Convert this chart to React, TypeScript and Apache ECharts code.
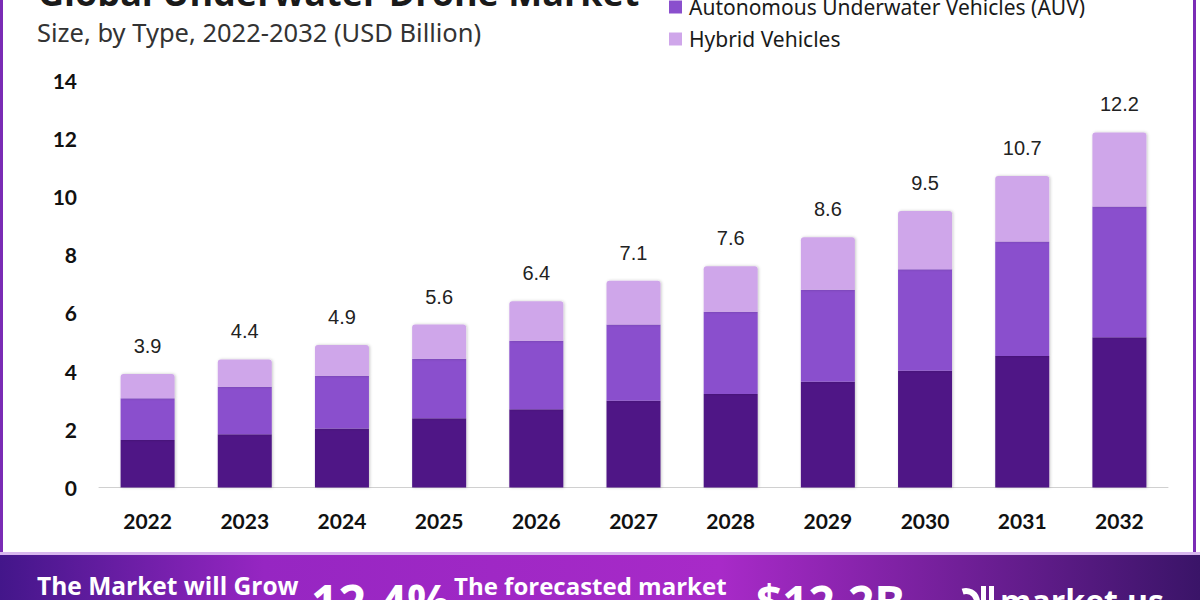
import React, { useEffect, useRef } from "react";
import * as echarts from "echarts";

const years = ["2022", "2023", "2024", "2025", "2026", "2027", "2028", "2029", "2030", "2031", "2032"];
const seriesNames = ["Remotely Operated Vehicles (ROV)", "Autonomous Underwater Vehicles (AUV)", "Hybrid Vehicles"];
const rovValues = [1.63, 1.83, 2.03, 2.38, 2.69, 2.98, 3.21, 3.63, 4.01, 4.52, 5.16];
const auvValues = [1.44, 1.63, 1.81, 2.04, 2.35, 2.62, 2.83, 3.16, 3.49, 3.93, 4.49];
const hybridValues = [0.83, 0.94, 1.06, 1.18, 1.36, 1.5, 1.56, 1.81, 2.0, 2.25, 2.55];
const totals = ["3.9", "4.4", "4.9", "5.6", "6.4", "7.1", "7.6", "8.6", "9.5", "10.7", "12.2"];
const yMin = 0;
const yMax = 14;
const yStep = 2;

const colors = ["#4f1786", "#8a4fcd", "#cfa6ea"];

export default function App() {
  const ref = useRef<HTMLDivElement>(null);
  useEffect(() => {
    if (!ref.current) return;
    const chart = echarts.init(ref.current, undefined, { renderer: "svg" });
    const shadow = { shadowBlur: 3, shadowOffsetX: 1, shadowColor: "rgba(0,0,0,0.22)" };
    chart.setOption({
      animation: false,
      backgroundColor: "#ffffff",
      color: colors,
      legend: {
        orient: "vertical",
        left: 664,
        top: -41,
        itemWidth: 13,
        itemHeight: 13,
        itemGap: 10,
        icon: "rect",
        data: seriesNames,
        textStyle: { fontSize: 21, lineHeight: 22, fontFamily: "Noto Sans", color: "#1a1a1a", padding: [0, 0, 0, 2] },
      },
      grid: { left: 99, right: 32, top: 80, bottom: 112.5 },
      xAxis: {
        type: "category",
        data: years,
        axisTick: { show: false },
        axisLine: { lineStyle: { color: "#d0d0d0", width: 1 } },
        axisLabel: { margin: 22, fontSize: 21, fontWeight: "bold", fontFamily: "Lato", color: "#111" },
      },
      yAxis: {
        type: "value",
        min: yMin,
        max: yMax,
        interval: yStep,
        splitLine: { show: false },
        axisLine: { show: false },
        axisTick: { show: false },
        axisLabel: { margin: 22, fontSize: 21, fontWeight: "bold", fontFamily: "Lato", color: "#111" },
      },
      series: [
        {
          name: seriesNames[0],
          type: "bar",
          stack: "total",
          barWidth: 54,
          data: rovValues,
          itemStyle: { color: colors[0], ...shadow },
        },
        {
          name: seriesNames[1],
          type: "bar",
          stack: "total",
          barWidth: 54,
          data: auvValues,
          itemStyle: { color: colors[1], ...shadow },
        },
        {
          name: seriesNames[2],
          type: "bar",
          stack: "total",
          barWidth: 54,
          data: hybridValues,
          itemStyle: { color: colors[2], borderRadius: [3, 3, 0, 0], ...shadow },
          label: {
            show: true,
            position: "top",
            distance: 18,
            fontSize: 20,
            fontFamily: "Liberation Sans",
            color: "#222",
            formatter: (p: any) => totals[p.dataIndex],
          },
        },
      ],
      graphic: [
        {
          type: "text",
          left: 38,
          top: -26,
          style: { text: "Global Underwater Drone Market", fontSize: 36, fontWeight: "bold", fontFamily: "Open Sans", fill: "#1a1a1a" },
        },
        {
          type: "text",
          x: 37,
          y: 32,
          style: { text: "Size, by Type, 2022-2032 (USD Billion)", fontSize: 25.5, fontFamily: "Noto Sans", fill: "#333", verticalAlign: "middle" },
        },
        { type: "rect", shape: { x: 0, y: 0, width: 3, height: 600 }, style: { fill: "#7a2bb5" } },
        { type: "rect", shape: { x: 1193, y: 0, width: 3, height: 600 }, style: { fill: "#7a2bb5" } },
        { type: "rect", shape: { x: 0, y: 552, width: 1200, height: 3 }, style: { fill: "#d8b6ee" } },
        {
          type: "rect",
          shape: { x: 0, y: 555, width: 1200, height: 45 },
          style: {
            fill: new echarts.graphic.LinearGradient(0, 0, 1, 0, [
              { offset: 0, color: "#43168a" },
              { offset: 0.22, color: "#9626c2" },
              { offset: 0.6, color: "#a82ac8" },
              { offset: 1, color: "#3a1468" },
            ]),
          },
        },
        {
          type: "text",
          x: 37,
          y: 585,
          style: { text: "The Market will Grow", fontSize: 24.5, fontWeight: "bold", fontFamily: "Open Sans", fill: "#fff", verticalAlign: "middle" },
        },
        {
          type: "text",
          x: 311,
          y: 601,
          style: { text: "12.4%", fontSize: 48, fontWeight: "bold", fontFamily: "Open Sans", fill: "#fff", verticalAlign: "middle" },
        },
        {
          type: "text",
          x: 454,
          y: 585,
          style: { text: "The forecasted market", fontSize: 24, fontWeight: "bold", fontFamily: "Open Sans", fill: "#fff", verticalAlign: "middle" },
        },
        {
          type: "text",
          x: 756,
          y: 601,
          style: { text: "$12.2B", fontSize: 46, fontWeight: "bold", fontFamily: "Open Sans", fill: "#fff", verticalAlign: "middle" },
        },
        {
          type: "arc",
          shape: { cx: 966, cy: 602, r: 11, startAngle: -Math.PI * 0.6, endAngle: Math.PI * 0.9, clockwise: true },
          style: { stroke: "#fff", lineWidth: 6, fill: "none" },
        },
        { type: "rect", shape: { x: 981, y: 586, width: 5, height: 16 }, style: { fill: "#fff" } },
        { type: "rect", shape: { x: 989, y: 586, width: 5, height: 16 }, style: { fill: "#fff" } },
        {
          type: "text",
          x: 1000,
          y: 600,
          style: { text: "market.us", fontSize: 32, fontWeight: "bold", fontFamily: "Open Sans", fill: "#fff", verticalAlign: "middle" },
        },
      ],
    });
    return () => chart.dispose();
  }, []);
  return <div ref={ref} style={{ position: "fixed", left: 0, top: 0, width: 1200, height: 600 }} />;
}
